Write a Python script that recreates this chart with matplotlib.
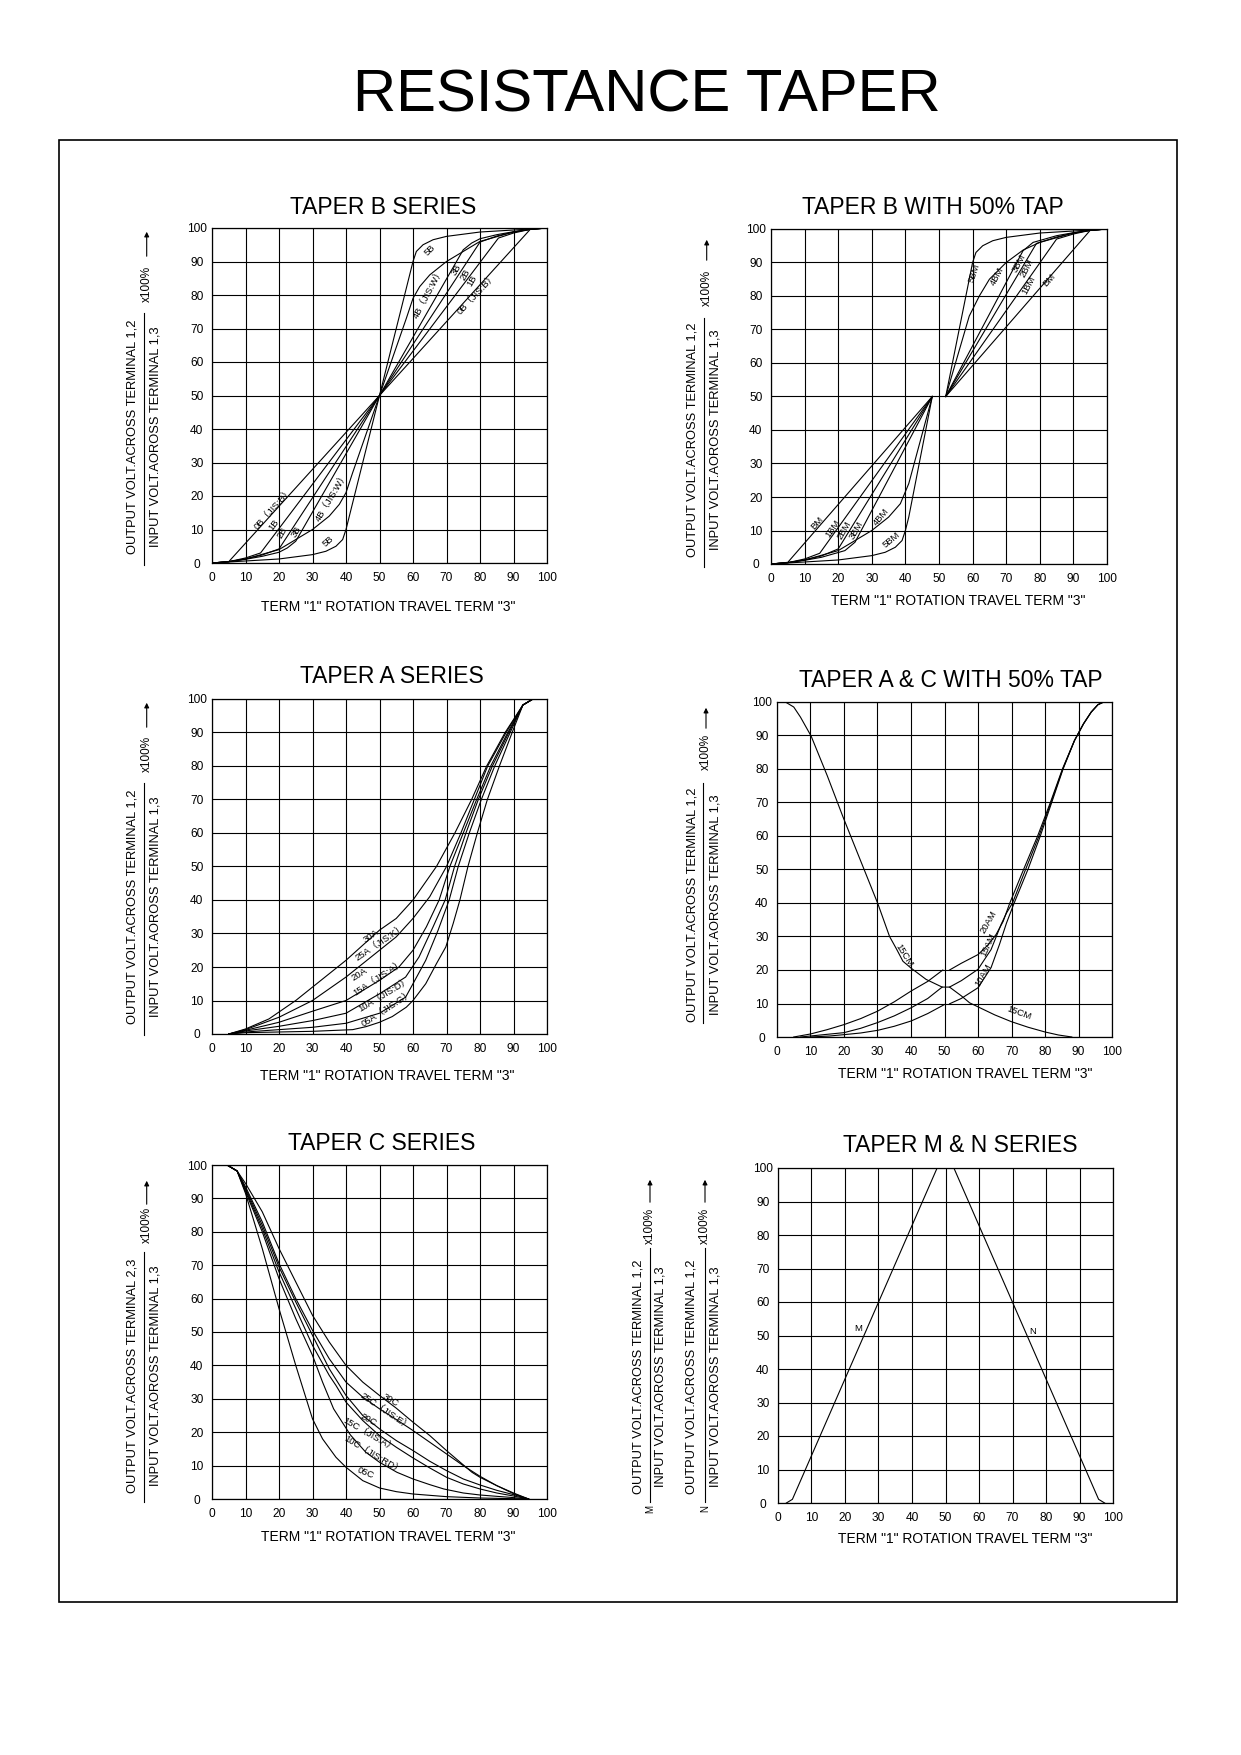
import matplotlib
matplotlib.use("Agg")
import matplotlib.pyplot as plt
from matplotlib.patches import Rectangle, FancyArrowPatch
from matplotlib.lines import Line2D

# ---------------- data ----------------
ticks = [0, 10, 20, 30, 40, 50, 60, 70, 80, 90, 100]
tick_labels = ["0", "10", "20", "30", "40", "50", "60", "70", "80", "90", "100"]

main_title = "RESISTANCE TAPER"
panel_titles = ["TAPER B SERIES", "TAPER B WITH 50% TAP", "TAPER A SERIES",
                "TAPER A & C WITH 50% TAP", "TAPER C SERIES", "TAPER M & N SERIES"]
xlabel_text = 'TERM "1" ROTATION TRAVEL TERM "3"'
ylab_12 = "OUTPUT VOLT.ACROSS TERMINAL 1,2"
ylab_23 = "OUTPUT VOLT.ACROSS TERMINAL 2,3"
ylab_in = "INPUT VOLT.AOROSS TERMINAL 1,3"

# Taper B series
b0_x = [0, 5, 50, 95, 100]
b0_y = [0, 0.4, 50, 99.6, 100]
b1_x = [0, 5, 10, 14.5, 50, 85.5, 90, 95, 100]
b1_y = [0, 0.4, 1.5, 3, 50, 97, 98.5, 99.6, 100]
b2_x = [0, 5, 10, 15, 20, 50, 80, 85, 90, 95, 100]
b2_y = [0, 0.4, 1.2, 2.4, 4.2, 50, 95.8, 97.6, 98.8, 99.6, 100]
b3_x = [0, 5, 10, 15, 20, 22.5, 25, 50, 75, 77.5, 80, 85, 90, 95, 100]
b3_y = [0, 0.4, 1.1, 2, 3.2, 4.5, 6.5, 50, 93.5, 95.5, 96.8, 98, 98.9, 99.6, 100]
b4_x = [0, 5, 10, 20, 30, 35, 38, 40, 42, 50, 58, 60, 62, 65, 70, 80, 90, 95, 100]
b4_y = [0, 0.4, 1.2, 4, 10, 14, 17.5, 21, 27, 50, 73, 79, 82.5, 86, 90, 96, 98.8, 99.6, 100]
b5_x = [0, 5, 10, 20, 30, 34, 37, 39, 40, 41, 50, 59, 60, 61, 63, 66, 70, 80, 90, 95, 100]
b5_y = [0, 0.3, 0.6, 1.2, 2.5, 3.5, 5, 7, 10, 14, 50, 86, 90, 93, 95, 96.5, 97.5, 98.8, 99.4, 99.7, 100]

# Taper B with 50% tap (lower and upper halves)
bm0_lo_x = [0, 5, 48];                      bm0_lo_y = [0, 0.5, 50]
bm0_hi_x = [52, 95, 100];                   bm0_hi_y = [50, 99.6, 100]
bm1_lo_x = [0, 5, 10, 14.5, 48];            bm1_lo_y = [0, 0.4, 1.5, 3.2, 50]
bm1_hi_x = [52, 85, 90, 95, 100];           bm1_hi_y = [50, 97, 98.5, 99.6, 100]
bm2_lo_x = [0, 5, 10, 15, 20, 48];          bm2_lo_y = [0, 0.4, 1.2, 2.4, 4.5, 50]
bm2_hi_x = [52, 79, 85, 90, 95, 100];       bm2_hi_y = [50, 95.7, 97.6, 98.8, 99.6, 100]
bm3_lo_x = [0, 5, 10, 15, 22, 25, 48];      bm3_lo_y = [0, 0.4, 1.1, 2, 4, 6.5, 50]
bm3_hi_x = [52, 75, 78, 85, 90, 95, 100];   bm3_hi_y = [50, 93.5, 96, 98, 98.9, 99.6, 100]
bm4_lo_x = [0, 5, 10, 20, 30, 35, 38.5, 41, 48]
bm4_lo_y = [0, 0.4, 1.2, 4, 10, 14, 18, 24, 50]
bm4_hi_x = [52, 59, 60, 62, 65, 70, 75, 80, 90, 95, 100]
bm4_hi_y = [50, 74, 76, 80, 85, 90, 93.7, 96, 98.8, 99.6, 100]
bm5_lo_x = [0, 5, 10, 20, 30, 34, 37, 39, 40, 41, 48]
bm5_lo_y = [0, 0.3, 0.6, 1.2, 2.5, 3.5, 5, 7, 10, 14, 50]
bm5_hi_x = [52, 58, 60, 61, 63, 66, 70, 80, 90, 95, 100]
bm5_hi_y = [50, 80, 90, 93, 95, 96.5, 97.5, 98.8, 99.4, 99.7, 100]

# Taper A series
a30_x = [5, 10, 17, 25, 30, 40, 50, 55, 60, 67, 72.5, 77.5, 82, 87.5, 92.8, 95.8, 100]
a30_y = [0, 1.5, 4.5, 10, 14, 22, 31, 34.5, 40, 50, 60, 70, 80, 90, 98.2, 100, 100]
a25_x = [5, 10, 20, 30, 40, 50, 55, 60, 65, 70, 74.3, 78.3, 82.3, 87.8, 92.8, 95.8, 100]
a25_y = [0, 1.3, 5, 10, 17, 25, 29, 34.5, 41, 50, 60, 70, 80, 90, 98.2, 100, 100]
a20_x = [5, 10, 20, 30, 40, 50, 55.8, 60, 64, 67.8, 71, 75, 79, 83.2, 88.3, 92.8, 95.8, 100]
a20_y = [0, 1.1, 3.5, 6.8, 10, 16, 20, 25, 32, 40, 50, 60, 70, 80, 90, 98.2, 100, 100]
a15_x = [5, 10, 20, 30, 40, 50, 57.8, 61.8, 66, 69.6, 72.4, 75.8, 79.5, 83.7, 88.6, 92.8, 95.8, 100]
a15_y = [0, 0.9, 2.3, 4, 6.2, 12, 17, 23, 32, 40, 50, 60, 70, 80, 90, 98.2, 100, 100]
a10_x = [5, 10, 20, 30, 40, 50, 57.8, 60, 63.8, 67.5, 70.8, 73.5, 76.8, 80.4, 84.4, 89, 92.8, 95.8, 100]
a10_y = [0, 0.6, 1.3, 2, 3.2, 6.2, 11, 15, 22, 31, 40, 50, 60, 70, 80, 90, 98.2, 100, 100]
a05_x = [5, 10, 20, 30, 42, 46, 50, 53.8, 58, 60, 63.8, 67, 69.8, 72, 74, 76.4, 79.2, 82.2, 85.8, 89.6, 92.8, 95.8, 100]
a05_y = [0, 0.4, 0.6, 0.8, 1.3, 2.2, 3.5, 5.2, 8, 10, 15, 21, 26, 33, 40, 50, 60, 70, 80, 90, 98.2, 100, 100]

# Taper A & C with 50% tap
cm15_x = [0, 2.5, 5, 7, 10.2, 15, 19.7, 25, 30.1, 33.6, 35.6, 37.6, 40.1, 44.5, 49.3, 51.5,
          55, 57.5, 60, 65, 69.9, 75, 80, 84, 88]
cm15_y = [100, 100, 98.5, 95.5, 89.8, 78, 65.7, 52.5, 39.8, 30, 26.4, 22.6, 20.5, 17.2, 14.9, 14.9,
          12.3, 10.2, 9, 6.6, 4.6, 2.9, 1.5, 0.6, 0]
am20_lo_x = [5, 10, 15, 20, 25, 30, 35, 40, 45, 49.5]
am20_lo_y = [0, 0.9, 2.2, 3.7, 5.5, 7.7, 10.5, 13.7, 16.6, 20]
am20_hi_x = [51.5, 55, 60, 63, 65.4, 67.5, 69.5, 73.6, 77.8, 81.6, 85.2, 88.8, 91.5, 93.8, 95.8, 97.5, 100]
am20_hi_y = [20, 22, 24.6, 27.5, 30.6, 34.5, 40, 50, 60, 70, 80, 88.5, 93.5, 97, 99.2, 100, 100]
am15_lo_x = [7, 10, 15, 20, 25, 30, 35, 40, 45, 49.3]
am15_lo_y = [0, 0.3, 0.8, 1.3, 2.6, 4.3, 6.3, 8.7, 11.5, 14.9]
am15_hi_x = [51.5, 55, 60, 63.9, 66.9, 68.5, 70.3, 74.2, 78.2, 81.8, 85.3, 88.8, 91.5, 93.8, 95.8, 97.5, 100]
am15_hi_y = [14.9, 16.8, 20.2, 26.1, 33.6, 37, 40, 50, 60, 70, 80, 88.5, 93.5, 97, 99.2, 100, 100]
am10_lo_x = [10, 15.7, 20, 25, 30.1, 35, 40.1, 45, 50]
am10_lo_y = [0, 0.3, 0.7, 1.2, 2, 3.2, 4.8, 7, 9.7]
am10_hi_x = [51.5, 55, 60, 63.9, 66.4, 68.5, 70.8, 74.9, 78.6, 82, 85.4, 88.8, 91.5, 93.8, 95.8, 97.5, 100]
am10_hi_y = [9.9, 11.5, 14.7, 20.7, 27.6, 34, 40, 50, 60, 70, 80, 88.5, 93.5, 97, 99.2, 100, 100]

# Taper C series
c30_x = [4.5, 7.5, 10, 15, 20, 25, 30, 35, 40, 45, 50, 55, 60, 65, 70, 77.6, 80, 85, 90, 94.5]
c30_y = [100, 98.2, 94.5, 86, 75, 65, 55, 47, 40, 35, 31, 27.2, 23, 19, 14.5, 8, 6.5, 4, 1.8, 0]
c25_x = [4.5, 7.5, 10, 15, 20, 25, 30, 35, 40, 45, 50, 55, 60, 65, 70, 75, 80, 85, 90, 94.5]
c25_y = [100, 98.2, 93.5, 83, 70.5, 60, 50.5, 42, 35, 30.5, 27, 23.8, 20.5, 17, 13.5, 10, 6.8, 4, 1.6, 0]
c20_x = [4.5, 7.5, 10, 15, 20, 25, 30, 35, 40, 45, 50, 55, 60, 65, 70, 75, 80, 85, 90, 94.5]
c20_y = [100, 98.2, 93, 82, 69.5, 59, 49, 39, 31, 25, 21, 17.5, 14.5, 11.3, 8.5, 6, 4.2, 2.6, 1.3, 0]
c15_x = [4.5, 7.5, 10, 15, 20, 25, 30, 35, 37, 40, 45, 48.3, 50, 55, 60, 65, 70, 75, 80, 85, 90, 94.5]
c15_y = [100, 98.2, 92.5, 81, 68, 57, 46, 37, 34, 29, 23.5, 20.5, 19, 15.5, 12.3, 9.3, 6.5, 4.5, 3, 1.8, 0.9, 0]
c10_x = [4.5, 7.5, 10, 15, 20, 25, 30, 33, 36.3, 41.3, 45.9, 50, 55.2, 60, 65, 69.2, 75, 80, 85, 89, 94.5]
c10_y = [100, 98.2, 92, 80, 66, 54, 43, 35, 27, 19.2, 14, 11, 8, 6, 4.3, 3, 1.8, 1.2, 0.8, 0.5, 0]
c05_x = [4.5, 7.5, 10, 15, 20, 25, 30, 33, 37, 40, 45, 50, 55, 60, 70, 80, 94.5]
c05_y = [100, 98.2, 91.5, 75, 57, 40, 24, 18, 12.5, 9.5, 5.5, 3.3, 2.2, 1.5, 0.7, 0.3, 0]

# Taper M & N
m_x = [2.5, 4.3, 47.5]
m_y = [0, 1.1, 100]
n_x = [52.5, 95.7, 97.5]
n_y = [100, 1.1, 0]

# curve labels: (text, x, y, rotation)
lab_b = [("0B（JIS:B）", 18.3, 16.4, 48), ("1B", 18.3, 11.4, 53), ("2B", 21.1, 9.0, 60),
         ("3B", 25.3, 9.4, 60), ("4B（JIS:W）", 35.7, 19.9, 59), ("5B", 34.7, 6.4, 42),
         ("5B", 65.1, 93.5, 45), ("4B（JIS:W）", 64.6, 80.6, 62), ("3B", 73.0, 87.6, 60),
         ("2B", 75.5, 86.1, 60), ("1B", 77.5, 84.1, 60), ("0B（JIS:B）", 79.0, 80.6, 47)]
lab_bm = [("BM", 13.6, 12.1, 48), ("1BM", 18.4, 10.6, 55), ("2BM", 21.8, 10.1, 60),
          ("3BM", 25.5, 10.1, 60), ("4BM", 32.7, 14.1, 50), ("5BM", 35.8, 7.2, 40),
          ("5BM", 60.5, 86.8, 72), ("4BM", 67.3, 85.8, 62), ("3BM", 73.7, 89.8, 62),
          ("2BM", 76.2, 88.3, 62), ("1BM", 76.7, 83.3, 62), ("BM", 82.7, 84.8, 48)]
lab_a = [("30A", 47.4, 29.2, 35), ("25A（JIS:K）", 50.1, 27.6, 34), ("20A", 44.1, 17.9, 32),
         ("15A（JIS:A）", 49.7, 17.1, 33), ("10A（JIS:D）", 51.3, 12.0, 31), ("05A（JIS:G）", 52.3, 7.7, 33)]
lab_ac = [("15CM", 37.8, 24.4, -58), ("15CM", 72.2, 7.2, -20), ("20AM", 63.0, 34.3, 60),
          ("15AM", 63.2, 27.4, 65), ("10AM", 61.5, 18.4, 60)]
lab_c = [("30C", 53.2, 29.6, -30), ("25C（JIS:E）", 51.8, 26.4, -34), ("20C", 46.8, 23.7, -28),
         ("15C（JIS:A）", 47.0, 19.4, -30), ("10C（JIS:RD）", 48.3, 13.5, -31), ("05C", 45.8, 7.8, -22)]
lab_mn = [("M", 24.0, 52.1, 0), ("N", 76.0, 51.3, 0)]

# ---------------- figure ----------------
W, H = 1241, 1755
plt.rcParams["font.family"] = ["Liberation Sans", "Noto Sans CJK SC", "DejaVu Sans"]
fig = plt.figure(figsize=(W / 100, H / 100), dpi=100)


def fx(px):
    return px / W


def fy(py):
    return 1 - py / H


LW = 0.8


def make_axes(l, t, r, b):
    ax = fig.add_axes([fx(l), fy(b), (r - l) / W, (b - t) / H])
    ax.set_xlim(0, 100)
    ax.set_ylim(0, 100)
    ax.set_xticks(ticks)
    ax.set_yticks(ticks)
    ax.set_xticklabels(tick_labels)
    ax.set_yticklabels(tick_labels, ha="center")
    ax.tick_params(axis="x", length=0, labelsize=8.6, pad=6.5)
    ax.tick_params(axis="y", length=0, labelsize=8.6, pad=11)
    ax.grid(True, color="black", lw=LW)
    for s in ax.spines.values():
        s.set_linewidth(0.9)
    return ax


def curve(ax, x, y):
    ax.plot(x, y, color="black", lw=LW, solid_joinstyle="round")


def labels(ax, items, fs=6.8):
    for s, x, y, r in items:
        ax.text(x, y, s, rotation=r, rotation_mode="anchor", ha="center", va="center",
                fontsize=fs, color="black")


def ylabel_group(l1, x1, x2, yc, xbar, bar_t, bar_b, xp, yp, arr_b, arr_t, tag=None):
    fig.text(fx(x1), fy(yc), l1, rotation=90, ha="center", va="center", fontsize=9.3)
    fig.text(fx(x2), fy(yc), ylab_in, rotation=90, ha="center", va="center", fontsize=9.3)
    fig.add_artist(Line2D([fx(xbar), fx(xbar)], [fy(bar_b), fy(bar_t)],
                          transform=fig.transFigure, color="black", lw=LW))
    fig.text(fx(xp), fy(yp), "x100%", rotation=90, ha="center", va="center", fontsize=8.5)
    fig.add_artist(FancyArrowPatch((fx(xp), fy(arr_b)), (fx(xp), fy(arr_t)),
                                   transform=fig.transFigure, arrowstyle="-|>",
                                   mutation_scale=7, lw=LW, color="black"))
    if tag:
        fig.text(fx(xbar), fy(bar_b + 3), tag, rotation=90, ha="center", va="top", fontsize=7)


# main title and frame
fig.text(fx(647), fy(112), main_title, ha="center", va="baseline", fontsize=43)
fig.add_artist(Rectangle((fx(59), fy(1602)), (1177 - 59) / W, (1602 - 140) / H,
                         transform=fig.transFigure, fill=False, lw=1.2, ec="black"))

# Panel 1 : Taper B series
ax1 = make_axes(212, 228, 547, 563)
for x, y in [(b0_x, b0_y), (b1_x, b1_y), (b2_x, b2_y), (b3_x, b3_y), (b4_x, b4_y), (b5_x, b5_y)]:
    curve(ax1, x, y)
labels(ax1, lab_b)
fig.text(fx(383), fy(214), panel_titles[0], ha="center", va="baseline", fontsize=16.5)
fig.text(fx(388), fy(611), xlabel_text, ha="center", va="baseline", fontsize=10)
ylabel_group(ylab_12, 132.7, 156, 437, 144.3, 313, 565, 146.7, 284, 259, 229)

# Panel 2 : Taper B with 50% tap
ax2 = make_axes(771, 229, 1107, 564)
for x, y in [(bm0_lo_x, bm0_lo_y), (bm0_hi_x, bm0_hi_y), (bm1_lo_x, bm1_lo_y), (bm1_hi_x, bm1_hi_y),
             (bm2_lo_x, bm2_lo_y), (bm2_hi_x, bm2_hi_y), (bm3_lo_x, bm3_lo_y), (bm3_hi_x, bm3_hi_y),
             (bm4_lo_x, bm4_lo_y), (bm4_hi_x, bm4_hi_y), (bm5_lo_x, bm5_lo_y), (bm5_hi_x, bm5_hi_y)]:
    curve(ax2, x, y)
labels(ax2, lab_bm)
fig.text(fx(933), fy(214), panel_titles[1], ha="center", va="baseline", fontsize=16.5)
fig.text(fx(958), fy(605), xlabel_text, ha="center", va="baseline", fontsize=10)
ylabel_group(ylab_12, 692.7, 716, 440, 704.3, 318, 567, 706.7, 288, 263, 237)

# Panel 3 : Taper A series
ax3 = make_axes(212, 699, 547, 1034)
for x, y in [(a30_x, a30_y), (a25_x, a25_y), (a20_x, a20_y), (a15_x, a15_y), (a10_x, a10_y), (a05_x, a05_y)]:
    curve(ax3, x, y)
labels(ax3, lab_a)
fig.text(fx(392), fy(683), panel_titles[2], ha="center", va="baseline", fontsize=16.5)
fig.text(fx(387), fy(1080), xlabel_text, ha="center", va="baseline", fontsize=10)
ylabel_group(ylab_12, 132.7, 156, 907, 144.3, 783, 1035, 146.7, 754, 730, 700)

# Panel 4 : Taper A & C with 50% tap
ax4 = make_axes(777, 702, 1112, 1037)
for x, y in [(cm15_x, cm15_y), (am20_lo_x, am20_lo_y), (am20_hi_x, am20_hi_y),
             (am15_lo_x, am15_lo_y), (am15_hi_x, am15_hi_y), (am10_lo_x, am10_lo_y),
             (am10_hi_x, am10_hi_y)]:
    curve(ax4, x, y)
labels(ax4, lab_ac)
fig.text(fx(951), fy(687), panel_titles[3], ha="center", va="baseline", fontsize=16.5)
fig.text(fx(965), fy(1078), xlabel_text, ha="center", va="baseline", fontsize=10)
ylabel_group(ylab_12, 692.7, 715, 905, 703.3, 783, 1023, 706, 752, 731, 705)

# Panel 5 : Taper C series
ax5 = make_axes(212, 1165, 547, 1499)
for x, y in [(c30_x, c30_y), (c25_x, c25_y), (c20_x, c20_y), (c15_x, c15_y), (c10_x, c10_y), (c05_x, c05_y)]:
    curve(ax5, x, y)
labels(ax5, lab_c)
fig.text(fx(382), fy(1150), panel_titles[4], ha="center", va="baseline", fontsize=16.5)
fig.text(fx(388), fy(1541), xlabel_text, ha="center", va="baseline", fontsize=10)
ylabel_group(ylab_23, 132.7, 156, 1376, 144.3, 1252, 1502, 146.7, 1225, 1207, 1178)

# Panel 6 : Taper M & N series
ax6 = make_axes(778, 1168, 1113, 1503)
curve(ax6, m_x, m_y)
curve(ax6, n_x, n_y)
labels(ax6, lab_mn, fs=6.8)
fig.text(fx(960), fy(1152), panel_titles[5], ha="center", va="baseline", fontsize=16.5)
fig.text(fx(965), fy(1543), xlabel_text, ha="center", va="baseline", fontsize=10)
ylabel_group(ylab_12, 638.3, 660.7, 1377, 650, 1248, 1502, 650, 1226, 1205, 1177, tag="M")
ylabel_group(ylab_12, 691.7, 715, 1377, 705, 1248, 1502, 705, 1226, 1205, 1177, tag="N")

fig.savefig("out.png", dpi=100)
